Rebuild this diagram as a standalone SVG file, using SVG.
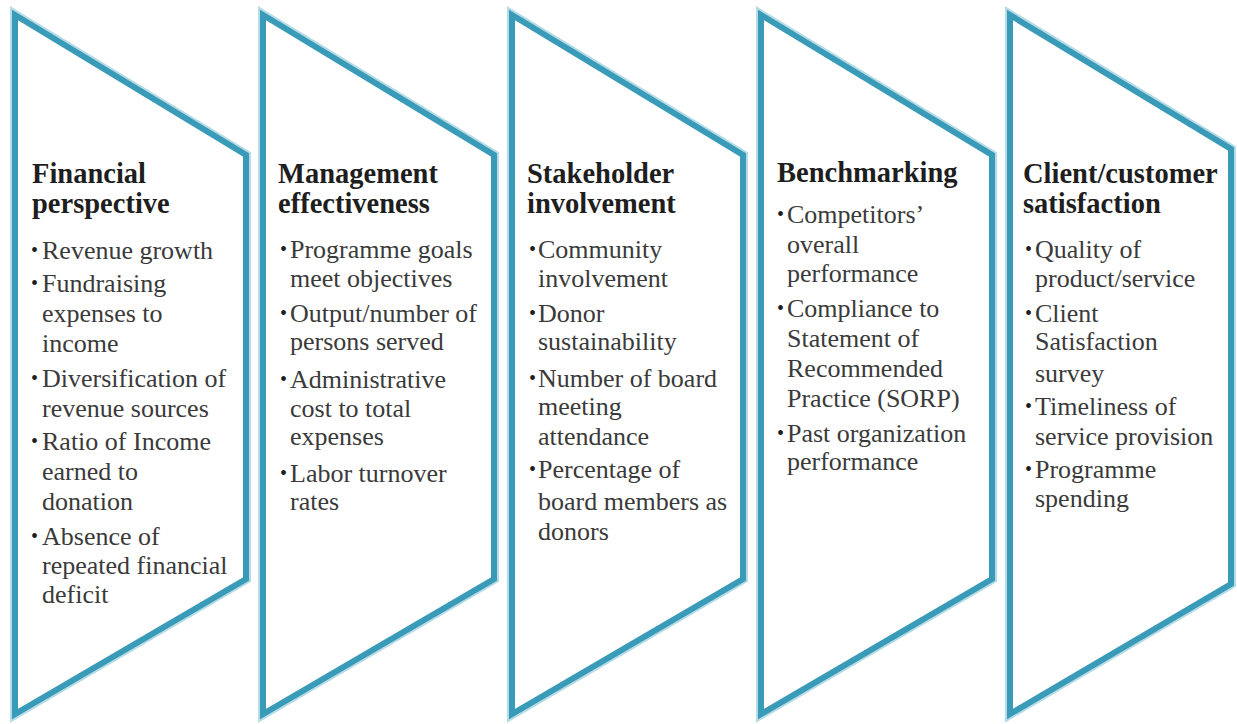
<svg xmlns="http://www.w3.org/2000/svg" width="1237" height="724" viewBox="0 0 1237 724">
<style>
.bg{fill:#ffffff}
.glow{fill:none;stroke:#b5dbe6;stroke-width:10;stroke-linejoin:miter}
.edge{fill:#ffffff;stroke:#3a9bb8;stroke-width:6;stroke-linejoin:miter}
text{font-family:'Liberation Serif','Times New Roman',serif}
.t{font-weight:bold;font-size:28.5px;fill:#1e1e1e}
.b{font-size:26px;fill:#3a3a3a}
.d{font-size:20px;fill:#1e1e1e}
</style>
<defs>
<path id="shape" d="M0,0 L231,140 L231,564 L0,699 Z"/>
<path id="shape5" d="M0,0 L221,134 L221,569 L0,699 Z"/>
</defs>
<rect class="bg" x="0" y="0" width="1237" height="724"/>
<g id="connectors"></g>

<g id="node-financial">
<use href="#shape" x="15" y="15" class="glow"/>
<use href="#shape" x="15" y="15" class="edge"/>
<text class="t" x="32" y="183">Financial</text>
<text class="t" x="32" y="213">perspective</text>
<text class="d" x="31" y="257">•</text><text class="b" x="42" y="259">Revenue growth</text>
<text class="d" x="31" y="290">•</text><text class="b" x="42" y="292">Fundraising</text>
<text class="b" x="42" y="322">expenses to</text>
<text class="b" x="42" y="352">income</text>
<text class="d" x="31" y="385">•</text><text class="b" x="42" y="387">Diversification of</text>
<text class="b" x="42" y="417">revenue sources</text>
<text class="d" x="31" y="448">•</text><text class="b" x="42" y="450">Ratio of Income</text>
<text class="b" x="42" y="480">earned to</text>
<text class="b" x="42" y="510">donation</text>
<text class="d" x="31" y="543">•</text><text class="b" x="42" y="545">Absence of</text>
<text class="b" x="42" y="574">repeated financial</text>
<text class="b" x="42" y="603">deficit</text>
</g>

<g id="node-management">
<use href="#shape" x="263" y="15" class="glow"/>
<use href="#shape" x="263" y="15" class="edge"/>
<text class="t" x="278" y="183">Management</text>
<text class="t" x="278" y="213">effectiveness</text>
<text class="d" x="280" y="256">•</text><text class="b" x="290" y="258">Programme goals</text>
<text class="b" x="290" y="287">meet objectives</text>
<text class="d" x="280" y="320">•</text><text class="b" x="290" y="322">Output/number of</text>
<text class="b" x="290" y="350">persons served</text>
<text class="d" x="280" y="386">•</text><text class="b" x="290" y="388">Administrative</text>
<text class="b" x="290" y="417">cost to total</text>
<text class="b" x="290" y="445">expenses</text>
<text class="d" x="280" y="480">•</text><text class="b" x="290" y="482">Labor turnover</text>
<text class="b" x="290" y="510">rates</text>
</g>

<g id="node-stakeholder">
<use href="#shape" x="512" y="15" class="glow"/>
<use href="#shape" x="512" y="15" class="edge"/>
<text class="t" x="527" y="183">Stakeholder</text>
<text class="t" x="527" y="213">involvement</text>
<text class="d" x="529" y="256">•</text><text class="b" x="538" y="258">Community</text>
<text class="b" x="538" y="287">involvement</text>
<text class="d" x="529" y="320">•</text><text class="b" x="538" y="322">Donor</text>
<text class="b" x="538" y="350">sustainability</text>
<text class="d" x="529" y="385">•</text><text class="b" x="538" y="387">Number of board</text>
<text class="b" x="538" y="415">meeting</text>
<text class="b" x="538" y="445">attendance</text>
<text class="d" x="529" y="476">•</text><text class="b" x="538" y="478">Percentage of</text>
<text class="b" x="538" y="510">board members as</text>
<text class="b" x="538" y="540">donors</text>
</g>

<g id="node-benchmarking">
<use href="#shape" x="761" y="15" class="glow"/>
<use href="#shape" x="761" y="15" class="edge"/>
<text class="t" x="777" y="182">Benchmarking</text>
<text class="d" x="777" y="221">•</text><text class="b" x="787" y="223">Competitors’</text>
<text class="b" x="787" y="253">overall</text>
<text class="b" x="787" y="282">performance</text>
<text class="d" x="777" y="315">•</text><text class="b" x="787" y="317">Compliance to</text>
<text class="b" x="787" y="347">Statement of</text>
<text class="b" x="787" y="377">Recommended</text>
<text class="b" x="787" y="407">Practice (SORP)</text>
<text class="d" x="777" y="440">•</text><text class="b" x="787" y="442">Past organization</text>
<text class="b" x="787" y="470">performance</text>
</g>

<g id="node-client">
<use href="#shape5" x="1010" y="15" class="glow"/>
<use href="#shape5" x="1010" y="15" class="edge"/>
<text class="t" x="1023" y="183">Client/customer</text>
<text class="t" x="1023" y="213">satisfaction</text>
<text class="d" x="1025" y="256">•</text><text class="b" x="1035" y="258">Quality of</text>
<text class="b" x="1035" y="287">product/service</text>
<text class="d" x="1025" y="320">•</text><text class="b" x="1035" y="322">Client</text>
<text class="b" x="1035" y="350">Satisfaction</text>
<text class="b" x="1035" y="382">survey</text>
<text class="d" x="1025" y="413">•</text><text class="b" x="1035" y="415">Timeliness of</text>
<text class="b" x="1035" y="445">service provision</text>
<text class="d" x="1025" y="476">•</text><text class="b" x="1035" y="478">Programme</text>
<text class="b" x="1035" y="507">spending</text>
</g>
</svg>
